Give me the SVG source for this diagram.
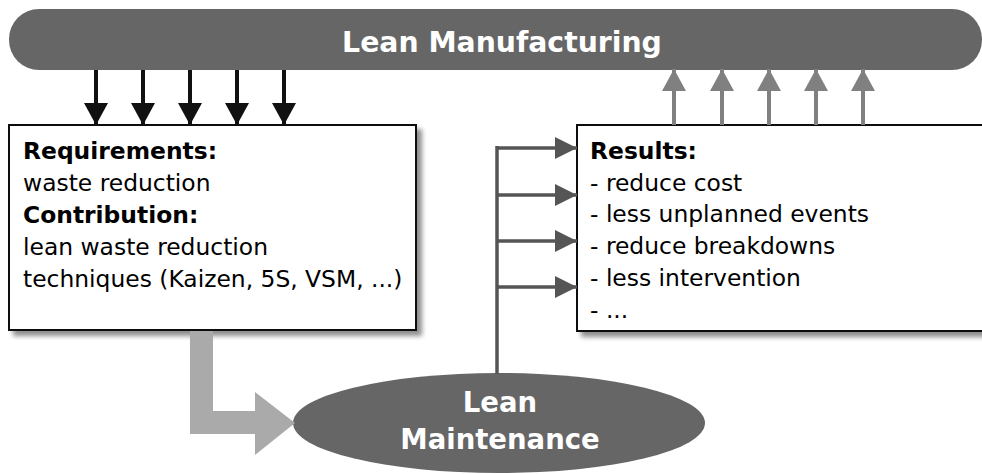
<svg xmlns="http://www.w3.org/2000/svg" width="982" height="474" viewBox="0 0 982 474">
<style>
.bold{font-family:"DejaVu Sans","Liberation Sans",sans-serif;font-weight:bold}
.reg{font-family:"DejaVu Sans","Liberation Sans",sans-serif}
.t{font-size:23.4px}
.box{fill:#fff;stroke:#111;stroke-width:2}
.dark{fill:#666}
.wt{fill:#fff}
.down{stroke:#111;stroke-width:4;fill:none}
.up{stroke:#808080;stroke-width:4;fill:none}
.branch{stroke:#555;stroke-width:3.5;fill:none}
</style>
<defs>
<filter id="sh" x="-10%" y="-10%" width="130%" height="130%">
<feGaussianBlur in="SourceAlpha" stdDeviation="2.5"/>
<feOffset dx="5" dy="5" result="b"/>
<feComponentTransfer><feFuncA type="linear" slope="0.45"/></feComponentTransfer>
<feMerge><feMergeNode/><feMergeNode in="SourceGraphic"/></feMerge>
</filter>
<marker id="ahDown" markerWidth="22" markerHeight="24" refX="22" refY="12" orient="auto" markerUnits="userSpaceOnUse" viewBox="0 0 22 24">
<path d="M0,0 L22,12 L0,24 Z" fill="#111"/>
</marker>
<marker id="ahUp" markerWidth="22" markerHeight="24" refX="22" refY="12" orient="auto" markerUnits="userSpaceOnUse" viewBox="0 0 22 24">
<path d="M0,0 L22,12 L0,24 Z" fill="#808080"/>
</marker>
<marker id="ahRight" markerWidth="22" markerHeight="22" refX="22" refY="11" orient="auto" markerUnits="userSpaceOnUse" viewBox="0 0 22 22">
<path d="M0,0 L22,11 L0,22 Z" fill="#555"/>
</marker>
</defs>

<g id="lean-manufacturing">
<rect x="9" y="9" width="973" height="61" rx="30" ry="30" class="dark"/>
<text x="502" y="52" text-anchor="middle" font-size="28.3" class="bold wt">Lean Manufacturing</text>
</g>

<g id="requirements">
<rect x="9" y="125" width="407" height="205" class="box" filter="url(#sh)"/>
<text x="23" y="159" class="bold t">Requirements:</text>
<text x="23" y="191" class="reg t">waste reduction</text>
<text x="23" y="223" class="bold t">Contribution:</text>
<text x="23" y="255" class="reg t">lean waste reduction</text>
<text x="23" y="287" class="reg t">techniques (Kaizen, 5S, VSM, ...)</text>
</g>

<g id="results">
<rect x="577" y="125" width="420" height="206" class="box" filter="url(#sh)"/>
<text x="590" y="159" class="bold t">Results:</text>
<text x="590" y="191" class="reg t">- reduce cost</text>
<text x="590" y="222" class="reg t">- less unplanned events</text>
<text x="590" y="254" class="reg t">- reduce breakdowns</text>
<text x="590" y="286" class="reg t">- less intervention</text>
<text x="590" y="318" class="reg t">- ...</text>
</g>

<g id="lean-maintenance">
<ellipse cx="499" cy="423" rx="206" ry="50" class="dark"/>
<text x="500" y="412" text-anchor="middle" font-size="27.5" class="bold wt">Lean</text>
<text x="500" y="449" text-anchor="middle" font-size="27.5" class="bold wt">Maintenance</text>
</g>

<g id="connectors">
<line x1="96" y1="70" x2="96" y2="125" class="down" marker-end="url(#ahDown)"/>
<line x1="143" y1="70" x2="143" y2="125" class="down" marker-end="url(#ahDown)"/>
<line x1="190" y1="70" x2="190" y2="125" class="down" marker-end="url(#ahDown)"/>
<line x1="237" y1="70" x2="237" y2="125" class="down" marker-end="url(#ahDown)"/>
<line x1="284" y1="70" x2="284" y2="125" class="down" marker-end="url(#ahDown)"/>

<line x1="674" y1="125" x2="674" y2="69" class="up" marker-end="url(#ahUp)"/>
<line x1="722" y1="125" x2="722" y2="69" class="up" marker-end="url(#ahUp)"/>
<line x1="769" y1="125" x2="769" y2="69" class="up" marker-end="url(#ahUp)"/>
<line x1="816" y1="125" x2="816" y2="69" class="up" marker-end="url(#ahUp)"/>
<line x1="863" y1="125" x2="863" y2="69" class="up" marker-end="url(#ahUp)"/>

<line x1="497" y1="374" x2="497" y2="146" class="branch"/>
<line x1="497" y1="148" x2="577" y2="148" class="branch" marker-end="url(#ahRight)"/>
<line x1="497" y1="195" x2="577" y2="195" class="branch" marker-end="url(#ahRight)"/>
<line x1="497" y1="241" x2="577" y2="241" class="branch" marker-end="url(#ahRight)"/>
<line x1="497" y1="287" x2="577" y2="287" class="branch" marker-end="url(#ahRight)"/>

<polygon points="190,331 213,331 213,411 255,411 255,392 295,423 255,455 255,434 190,434" fill="#aaa"/>
</g>
</svg>
